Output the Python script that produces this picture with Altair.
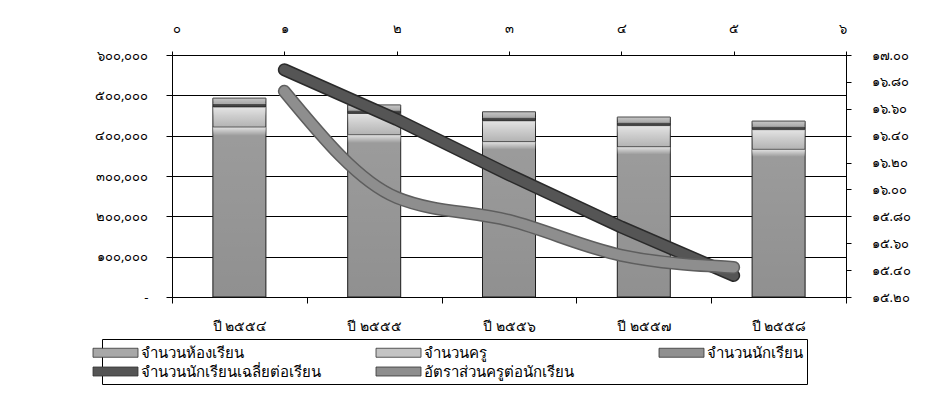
import altair as alt
import pandas as pd

# ---------------- data ----------------
years = ["ปี ๒๕๕๔", "ปี ๒๕๕๕", "ปี ๒๕๕๖", "ปี ๒๕๕๗", "ปี ๒๕๕๘"]
students = [421000, 402000, 385000, 372000, 366000]      # bottom segment
teachers = [50000, 53000, 52000, 53000, 49000]           # middle segment
classrooms = [22000, 21000, 22000, 21000, 21000]         # top segment

line_pos = [1, 2, 3, 4, 5]
avg_per_room = [16.89, 16.52, 16.11, 15.72, 15.36]
teacher_ratio = [16.73, 15.94, 15.77, 15.51, 15.42]

series_names = ["จำนวนห้องเรียน", "จำนวนครู", "จำนวนนักเรียน",
                "จำนวนนักเรียนเฉลี่ยต่อเรียน", "อัตราส่วนครูต่อนักเรียน"]
series_colors = ["#a8a8a8", "#c4c4c4", "#909090", "#555555", "#8e8e8e"]

left_ticks = [0, 100000, 200000, 300000, 400000, 500000, 600000]
right_ticks = [15.2, 15.4, 15.6, 15.8, 16.0, 16.2, 16.4, 16.6, 16.8, 17.0]
top_ticks = [0, 1, 2, 3, 4, 5, 6]

# ---------------- tables ----------------
rows = []
for i, y in enumerate(years):
    rows.append({"year": y, "series": series_names[2], "value": students[i], "ord": 0})
    rows.append({"year": y, "series": series_names[1], "value": teachers[i], "ord": 1})
    rows.append({"year": y, "series": series_names[0], "value": classrooms[i], "ord": 2})
bar_df = pd.DataFrame(rows)

lrows = []
for i, p in enumerate(line_pos):
    lrows.append({"pos": p, "v": avg_per_room[i], "series": series_names[3]})
    lrows.append({"pos": p, "v": teacher_ratio[i], "series": series_names[4]})
line_df = pd.DataFrame(lrows)

THAI = "๐๑๒๓๔๕๖๗๘๙"


def thai_expr(base):
    e = base
    for d, t in zip("0123456789", THAI):
        e = f"replace({e}, regexp('{d}', 'g'), '{t}')"
    return e


FONT = "Noto Sans"

x_scale = alt.Scale(paddingInner=0, paddingOuter=0)
y_scale = alt.Scale(domain=[0, 600000], nice=False)

x_axis = alt.Axis(title=None, orient="bottom", labelAngle=0, tickBand="extent",
                  tickSize=6, labelPadding=16, labelFontSize=14,
                  domainColor="black", tickColor="black", labelColor="black")
y_axis = alt.Axis(title=None, orient="left", values=left_ticks,
                  labelExpr="datum.value == 0 ? '-' : " + thai_expr("format(datum.value, ',')"),
                  grid=True, gridColor="black", gridWidth=1, tickSize=6,
                  labelPadding=18, labelFontSize=13, domainColor="black",
                  tickColor="black", labelColor="black")

legend = alt.Legend(
    title=None, orient="none", legendX=-70, legendY=284,
    direction="horizontal", columns=3, columnPadding=53, rowPadding=1,
    gridAlign="all", labelFontSize=15, labelColor="black",
    symbolType="M-2.5,-0.5H2.5V0.5H-2.5Z", symbolSize=324,
    symbolStrokeColor="#333", symbolStrokeWidth=0.8,
    labelOffset=16, strokeColor="black", padding=4, labelLimit=400,
)

stacked = alt.Chart(bar_df).transform_stack(
    stack="value", as_=["v0", "v1"], groupby=["year"], sort=[alt.SortField("ord")]
)

bars = stacked.mark_bar(size=53, stroke="#1a1a1a", strokeWidth=1).encode(
    x=alt.X("year:N", sort=years, scale=x_scale, axis=x_axis),
    y=alt.Y("v1:Q", scale=y_scale, axis=y_axis),
    y2="v0:Q",
    color=alt.Color("series:N",
                    scale=alt.Scale(domain=series_names, range=series_colors),
                    legend=legend),
)


def grad(stops):
    return alt.LinearGradient(
        gradient="linear", x1=0, y1=0, x2=0, y2=1,
        stops=[alt.GradientStop(offset=o, color=c) for o, c in stops])


overlay_specs = [
    (series_names[2], [(0, "rgba(255,255,255,0.75)"), (0.05, "rgba(255,255,255,0.1)"), (1, "rgba(255,255,255,0)")]),
    (series_names[1], [(0, "rgba(255,255,255,0.55)"), (0.45, "rgba(255,255,255,0.15)"), (1, "rgba(80,80,80,0.15)")]),
    (series_names[0], [(0, "rgba(255,255,255,0.35)"), (0.55, "rgba(255,255,255,0.05)"), (0.7, "rgba(40,40,40,0.7)"), (1, "rgba(40,40,40,0.85)")]),
]
overlays = []
for name, stops in overlay_specs:
    overlays.append(
        stacked.transform_filter(alt.datum.series == name)
        .mark_bar(size=53, fill=grad(stops), strokeWidth=0)
        .encode(x=alt.X("year:N", sort=years, scale=x_scale, axis=x_axis),
                y=alt.Y("v1:Q", scale=y_scale, axis=y_axis),
                y2="v0:Q")
    )

bar_layer = alt.layer(bars, *overlays)

lx = alt.X("pos:Q", scale=alt.Scale(domain=[0, 6], nice=False, zero=False),
           axis=alt.Axis(title=None, orient="top", values=top_ticks,
                         labelExpr=thai_expr("datum.label"), grid=False, tickSize=4,
                         labelPadding=16, labelFontSize=13, domainColor="black",
                         tickColor="black", labelColor="black"))
ly = alt.Y("v:Q", scale=alt.Scale(domain=[15.2, 17.0], nice=False, zero=False),
           axis=alt.Axis(title=None, orient="right", values=right_ticks, format=".2f",
                         labelExpr=thai_expr("datum.label"), grid=False, tickSize=5,
                         labelPadding=20, labelFontSize=13, domainColor="black",
                         tickColor="black", labelColor="black"))

base_line = alt.Chart(line_df)


def line(series, color, width, interp):
    return base_line.transform_filter(alt.datum.series == series).mark_line(
        color=color, strokeWidth=width, strokeCap="round", strokeJoin="round",
        interpolate=interp).encode(x=lx, y=ly)


line_layer = alt.layer(
    line(series_names[3], "#2a2a2a", 13, "linear"),
    line(series_names[3], series_colors[3], 10, "linear"),
    line(series_names[4], "#5e5e5e", 13, "monotone"),
    line(series_names[4], series_colors[4], 10, "monotone"),
)

chart = alt.layer(bar_layer, line_layer).resolve_scale(
    x="independent", y="independent"
).properties(
    width=674, height=242,
    autosize=alt.AutoSizeParams(type="none"),
    padding={"left": 164, "top": 47, "right": 92, "bottom": 107},
).configure(font=FONT).configure_view(stroke=None)

chart.save("out.html", embed_options={"renderer": "svg", "actions": False})
